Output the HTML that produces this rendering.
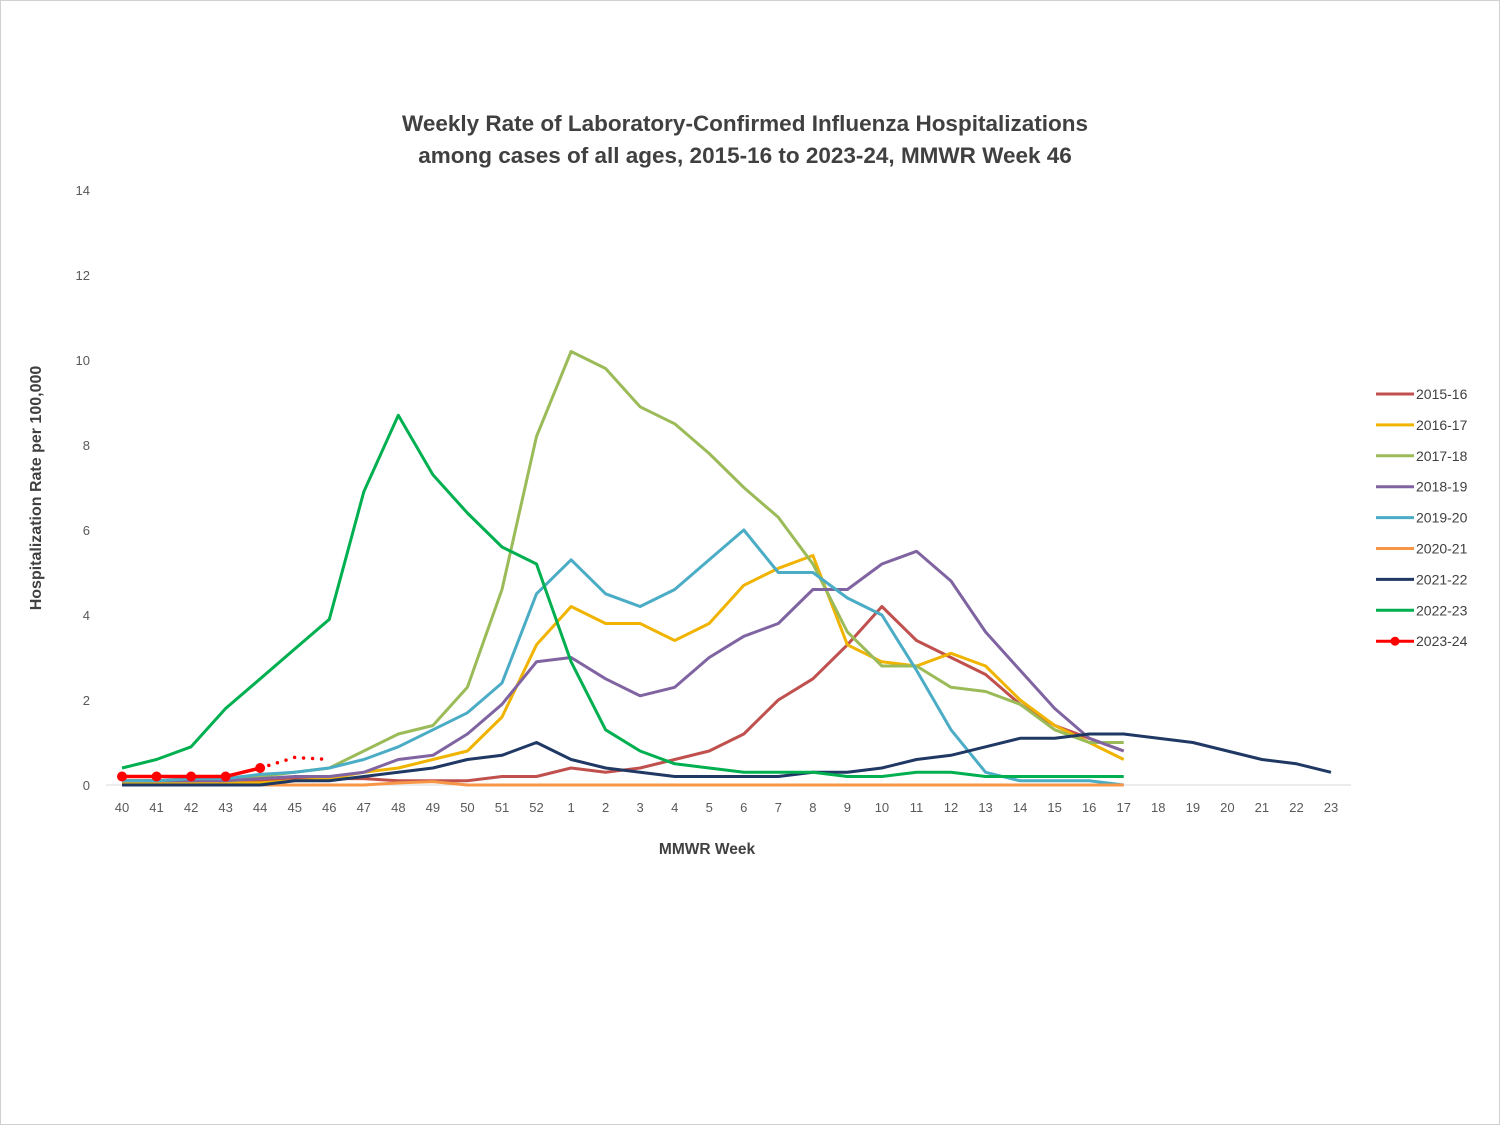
<!DOCTYPE html>
<html><head><meta charset="utf-8"><style>
html,body{margin:0;padding:0;background:#fff;}
#wrap{position:relative;width:1498px;height:1123px;border:1px solid #d0d0d0;}
svg text{font-family:"Liberation Sans",sans-serif;}
</style></head><body>
<div id="wrap">
<svg id="chart" width="1498" height="1123">
<text x="744" y="130" text-anchor="middle" font-size="22.5" font-weight="bold" fill="#404040">Weekly Rate of Laboratory-Confirmed Influenza Hospitalizations</text>
<text x="744" y="162" text-anchor="middle" font-size="22.5" font-weight="bold" fill="#404040">among cases of all ages, 2015-16 to 2023-24, MMWR Week 46</text>
<text x="40" y="487" transform="rotate(-90 40 487)" text-anchor="middle" font-size="16" font-weight="bold" fill="#404040">Hospitalization Rate per 100,000</text>
<text x="706" y="853" text-anchor="middle" font-size="15.5" font-weight="bold" fill="#404040">MMWR Week</text>
<g id="yticks"></g><g id="xticks"></g><g id="series"></g><g id="legend"></g>
</svg></div>
<script>
const categories=["40","41","42","43","44","45","46","47","48","49","50","51","52","1","2","3","4","5","6","7","8","9","10","11","12","13","14","15","16","17","18","19","20","21","22","23"];
const yTickLabels=[0,2,4,6,8,10,12,14];
const seasons=["2015-16","2016-17","2017-18","2018-19","2019-20","2020-21","2021-22","2022-23","2023-24"];
const colors=["#c0504d","#f0b400","#9bbb59","#8064a2","#4bacc6","#f79646","#1f3864","#00b050","#ff0000"];
const s2015=[0.1,0.1,0.1,0.1,0.1,0.15,0.15,0.15,0.1,0.1,0.1,0.2,0.2,0.4,0.3,0.4,0.6,0.8,1.2,2.0,2.5,3.3,4.2,3.4,3.0,2.6,1.9,1.4,1.1,0.8];
const s2016=[0.05,0.05,0.05,0.05,0.05,0.1,0.15,0.3,0.4,0.6,0.8,1.6,3.3,4.2,3.8,3.8,3.4,3.8,4.7,5.1,5.4,3.3,2.9,2.8,3.1,2.8,2.0,1.4,1.0,0.6];
const s2017=[0.1,0.1,0.1,0.15,0.2,0.3,0.4,0.8,1.2,1.4,2.3,4.6,8.2,10.2,9.8,8.9,8.5,7.8,7.0,6.3,5.2,3.6,2.8,2.8,2.3,2.2,1.9,1.3,1.0,1.0];
const s2018=[0.1,0.1,0.1,0.1,0.15,0.2,0.2,0.3,0.6,0.7,1.2,1.9,2.9,3.0,2.5,2.1,2.3,3.0,3.5,3.8,4.6,4.6,5.2,5.5,4.8,3.6,2.7,1.8,1.1,0.8];
const s2019=[0.1,0.1,0.15,0.15,0.25,0.3,0.4,0.6,0.9,1.3,1.7,2.4,4.5,5.3,4.5,4.2,4.6,5.3,6.0,5.0,5.0,4.4,4.0,2.7,1.3,0.3,0.1,0.1,0.1,0.0];
const s2020=[0,0,0,0,0,0,0,0,0.05,0.08,0,0,0,0,0,0,0,0,0,0,0,0,0,0,0,0,0,0,0,0];
const s2021=[0,0,0,0,0,0.1,0.1,0.2,0.3,0.4,0.6,0.7,1.0,0.6,0.4,0.3,0.2,0.2,0.2,0.2,0.3,0.3,0.4,0.6,0.7,0.9,1.1,1.1,1.2,1.2,1.1,1.0,0.8,0.6,0.5,0.3];
const s2022=[0.4,0.6,0.9,1.8,2.5,3.2,3.9,6.9,8.7,7.3,6.4,5.6,5.2,2.9,1.3,0.8,0.5,0.4,0.3,0.3,0.3,0.2,0.2,0.3,0.3,0.2,0.2,0.2,0.2,0.2];
const s2023=[0.2,0.2,0.2,0.2,0.4];
const s2023proj=[0.4,0.65,0.6];
const allSeries=[s2015,s2016,s2017,s2018,s2019,s2020,s2021,s2022];
const NS="http://www.w3.org/2000/svg";
const x0=121,x1=1330,yb=784,yt=189,ymax=14;
const xs=i=>x0+i*(x1-x0)/(categories.length-1);
const ys=v=>yb-v*(yb-yt)/ymax;
function mk(tag,attrs,parent,txt){const e=document.createElementNS(NS,tag);for(const k in attrs)e.setAttribute(k,attrs[k]);if(txt!==undefined)e.textContent=txt;parent.appendChild(e);return e;}
const gy=document.getElementById('yticks'),gx=document.getElementById('xticks'),gs=document.getElementById('series'),gl=document.getElementById('legend');
yTickLabels.forEach(v=>{const t=mk('text',{x:89,y:ys(v)+5,'text-anchor':'end','font-size':13,fill:'#595959'},gy,String(v));

});
const ax=mk('line',{x1:105,x2:1350,y1:yb,y2:yb,stroke:'#d9d9d9','stroke-width':1},gx);


categories.forEach((c,i)=>{const t=mk('text',{x:xs(i),y:811,'text-anchor':'middle','font-size':13,fill:'#595959'},gx,c);

});
const pts=(arr,off)=>arr.map((v,i)=>xs(i+(off||0)).toFixed(1)+','+ys(v).toFixed(1)).join(' ');
allSeries.forEach((arr,k)=>{const p=mk('polyline',{points:pts(arr),fill:'none',stroke:colors[k],'stroke-width':3,'stroke-linejoin':'round'},gs);

});
const pr=mk('polyline',{points:pts(s2023proj,4),fill:'none',stroke:'#ff0000','stroke-width':3.5,'stroke-dasharray':'0 9','stroke-linecap':'round'},gs);


const cur=mk('polyline',{points:pts(s2023),fill:'none',stroke:'#ff0000','stroke-width':3.5},gs);


s2023.forEach((v,i)=>{const c=mk('circle',{cx:xs(i),cy:ys(v),r:5,fill:'#ff0000'},gs);

});
seasons.forEach((s,k)=>{const y=393+k*30.9;const g=mk('g',{},gl);


mk('line',{x1:1375,x2:1413,y1:y,y2:y,stroke:colors[k],'stroke-width':3},g);
if(k===8)mk('circle',{cx:1394,cy:y,r:4.5,fill:'#ff0000'},g);
mk('text',{x:1415,y:y+5,'font-size':14,fill:'#404040'},g,s);});
</script>
</body></html>
